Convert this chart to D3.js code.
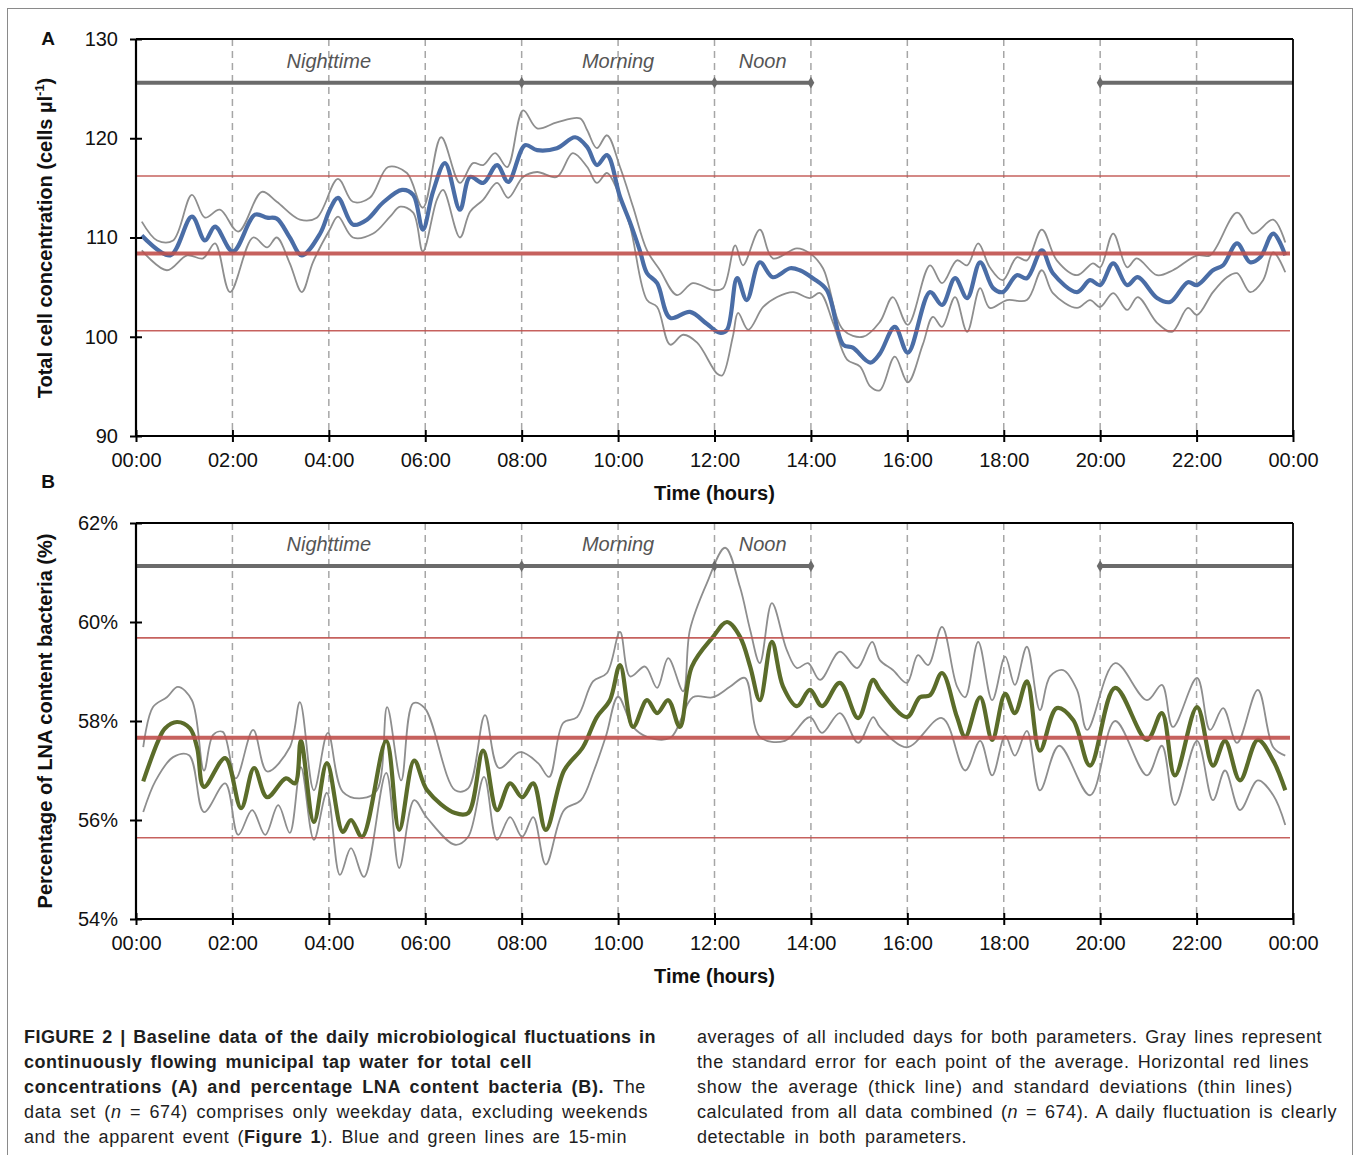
<!DOCTYPE html>
<html><head><meta charset="utf-8">
<script src="https://cdn.jsdelivr.net/npm/d3@7"></script>
<style>body{margin:0;background:#fff}</style>
</head><body>
<svg id="c" width="1354" height="1155" xmlns="http://www.w3.org/2000/svg"></svg>
<script>
// ---------------- DATA ----------------
const hourTicks = [0,2,4,6,8,10,12,14,16,18,20,22,24];
const hourLabels = ["00:00","02:00","04:00","06:00","08:00","10:00","12:00","14:00","16:00","18:00","20:00","22:00","00:00"];
const cellTicks = [90,100,110,120,130];
const lnaTicks = [54,56,58,60,62];

// periods: [start hour, end hour]; label with centre hour
const periodSegments = [[0,14],[20,24]];
const periodMarkers = [8,12,14,20];
const periodLabels = [["Nighttime",4],["Morning",10],["Noon",13]];

// Panel A: total cell concentration (cells/µl), 15-min averages, [hour, value]
const cellMean = [[0.12,110.2],[0.71,108.2],[1.16,112.1],[1.43,109.7],[1.64,111.1],[2.01,108.6],[2.47,112.3],[2.72,112.0],[2.92,111.9],[3.19,110.0],[3.44,108.2],[3.82,110.4],[4.02,112.8],[4.19,114.0],[4.50,111.3],[4.79,111.8],[5.12,113.5],[5.52,114.8],[5.75,114.3],[5.95,110.8],[6.16,114.6],[6.41,117.5],[6.72,112.8],[6.93,116.1],[7.20,115.5],[7.49,117.3],[7.72,115.6],[8.07,119.3],[8.32,118.8],[8.73,119.0],[9.11,120.1],[9.36,119.1],[9.56,117.3],[9.77,118.3],[10.04,114.1],[10.25,111.5],[10.45,108.7],[10.60,106.4],[10.81,105.4],[11.08,101.9],[11.49,102.5],[11.84,101.3],[12.11,100.4],[12.26,100.7],[12.47,105.9],[12.67,103.7],[12.94,107.5],[13.21,106.0],[13.57,106.9],[13.77,106.7],[14.04,105.9],[14.33,104.7],[14.67,99.2],[14.87,98.9],[15.23,97.4],[15.43,98.3],[15.74,101.0],[16.01,98.4],[16.47,104.5],[16.72,103.2],[16.99,105.9],[17.24,103.9],[17.51,107.5],[17.78,104.9],[17.98,104.5],[18.27,106.2],[18.48,105.9],[18.79,108.7],[19.02,106.4],[19.52,104.5],[19.79,105.7],[20.00,105.2],[20.27,107.4],[20.56,105.2],[20.78,106.0],[21.18,103.9],[21.45,103.5],[21.82,105.5],[22.01,105.2],[22.34,106.7],[22.55,107.2],[22.84,109.4],[23.11,107.5],[23.32,108.0],[23.59,110.4],[23.84,108.2]];
const cellUpper = [[0.12,111.6],[0.44,109.7],[0.77,109.7],[1.16,114.3],[1.43,112.0],[1.74,112.8],[2.12,110.6],[2.61,114.6],[2.92,113.6],[3.40,111.8],[3.75,112.0],[4.19,115.9],[4.50,113.6],[4.85,114.0],[5.23,117.1],[5.62,116.5],[5.95,113.0],[6.33,120.1],[6.72,115.5],[6.99,117.5],[7.20,117.3],[7.45,118.5],[7.70,117.1],[8.03,122.8],[8.32,121.0],[8.73,121.6],[9.21,122.0],[9.36,120.8],[9.56,119.0],[9.77,120.3],[10.04,117.1],[10.31,113.1],[10.60,108.7],[10.87,106.7],[11.22,104.2],[11.55,105.4],[11.97,104.7],[12.18,104.9],[12.43,109.2],[12.59,107.2],[12.94,110.8],[13.21,107.9],[13.71,108.9],[13.98,108.4],[14.25,106.9],[14.67,100.7],[15.08,100.0],[15.43,101.5],[15.70,104.0],[16.01,101.2],[16.47,107.2],[16.72,105.4],[17.03,107.7],[17.24,107.2],[17.47,109.4],[17.71,107.0],[17.98,105.7],[18.27,108.0],[18.48,107.7],[18.79,110.8],[19.10,107.7],[19.52,106.2],[19.85,107.4],[20.00,107.0],[20.27,110.4],[20.56,107.0],[20.76,107.9],[21.18,106.2],[21.51,106.7],[22.01,108.2],[22.28,108.2],[22.84,112.5],[23.17,110.4],[23.59,111.8],[23.84,109.5]];
const cellLower = [[0.12,108.7],[0.64,106.7],[1.06,108.2],[1.39,107.9],[1.64,109.4],[1.95,104.5],[2.43,110.0],[2.72,109.0],[2.92,110.0],[3.19,107.4],[3.44,104.5],[3.67,107.5],[4.02,110.8],[4.19,112.1],[4.50,110.0],[4.92,110.4],[5.27,112.1],[5.48,113.1],[5.75,112.5],[5.95,108.6],[6.24,113.8],[6.37,114.8],[6.72,110.0],[6.93,112.6],[7.20,113.8],[7.49,115.5],[7.72,114.0],[8.03,116.1],[8.32,116.6],[8.73,116.1],[9.06,118.5],[9.36,117.1],[9.56,115.5],[9.77,116.5],[9.98,114.8],[10.25,111.1],[10.60,103.7],[10.81,103.0],[11.08,99.2],[11.35,100.2],[11.64,99.4],[12.05,96.3],[12.16,96.1],[12.38,100.0],[12.49,102.4],[12.70,100.7],[13.01,103.0],[13.30,104.0],[13.63,104.5],[13.98,103.9],[14.19,104.4],[14.46,101.4],[14.75,97.7],[15.02,97.0],[15.23,95.0],[15.43,94.6],[15.74,98.0],[16.01,95.4],[16.32,99.2],[16.53,102.0],[16.72,101.0],[16.99,104.0],[17.24,100.5],[17.51,104.9],[17.71,102.9],[18.07,103.7],[18.48,103.7],[18.79,106.7],[19.02,104.4],[19.52,102.9],[19.79,103.7],[20.00,103.0],[20.27,104.4],[20.56,102.7],[20.78,104.0],[21.18,101.4],[21.49,100.5],[21.82,102.9],[22.01,102.2],[22.34,104.5],[22.63,106.0],[22.84,106.4],[23.11,104.5],[23.38,105.7],[23.59,108.5],[23.84,106.5]];
const cellStats = {mean:108.4, sdHigh:116.2, sdLow:100.6};

// Panel B: percentage LNA content bacteria (%)
const lnaMean = [[0.15,56.78],[0.46,57.6],[0.60,57.85],[0.85,57.98],[1.12,57.85],[1.27,57.45],[1.41,56.67],[1.85,57.25],[2.18,56.24],[2.45,57.05],[2.72,56.46],[3.11,56.84],[3.30,56.74],[3.42,57.6],[3.69,55.96],[3.96,57.15],[4.29,55.76],[4.46,56.0],[4.69,55.66],[5.19,57.6],[5.46,55.8],[5.77,57.2],[6.04,56.6],[6.62,56.14],[6.89,56.14],[7.20,57.4],[7.49,56.2],[7.76,56.74],[8.01,56.46],[8.24,56.74],[8.50,55.8],[8.88,57.0],[9.27,57.47],[9.56,58.08],[9.83,58.42],[10.04,59.13],[10.31,57.88],[10.60,58.42],[10.81,58.16],[11.04,58.42],[11.28,57.88],[11.53,59.1],[11.97,59.7],[12.26,60.0],[12.53,59.7],[12.74,59.1],[12.94,58.42],[13.19,59.6],[13.42,58.7],[13.71,58.3],[13.98,58.63],[14.23,58.3],[14.60,58.77],[14.98,58.06],[15.29,58.83],[15.43,58.63],[15.99,58.08],[16.26,58.48],[16.47,58.52],[16.72,58.97],[17.03,58.08],[17.20,57.68],[17.51,58.48],[17.76,57.62],[18.03,58.55],[18.23,58.16],[18.48,58.8],[18.75,57.4],[19.10,58.26],[19.44,58.02],[19.79,57.1],[20.31,58.67],[20.97,57.62],[21.28,58.16],[21.55,56.9],[22.01,58.28],[22.34,57.1],[22.59,57.6],[22.90,56.8],[23.27,57.62],[23.59,57.2],[23.84,56.6]];
const lnaUpper = [[0.15,57.47],[0.35,58.28],[0.64,58.48],[0.87,58.69],[1.16,58.42],[1.41,57.0],[1.60,57.72],[1.80,57.78],[2.07,56.84],[2.43,57.82],[2.72,56.98],[3.19,57.47],[3.40,58.38],[3.69,56.6],[3.98,57.76],[4.29,56.57],[4.69,56.44],[5.00,56.6],[5.21,58.28],[5.50,56.8],[5.75,58.36],[5.99,58.26],[6.62,56.6],[6.89,56.64],[7.24,58.12],[7.53,57.05],[7.97,57.37],[8.34,57.15],[8.57,56.87],[8.86,57.96],[9.15,58.08],[9.48,58.8],[9.77,58.97],[10.04,59.8],[10.25,58.9],[10.56,59.1],[10.81,58.67],[11.04,59.27],[11.35,58.6],[11.49,59.84],[11.84,60.78],[12.22,61.5],[12.53,60.7],[12.74,59.84],[12.94,59.17],[13.19,60.38],[13.50,59.43],[13.71,59.07],[13.94,59.17],[14.19,58.83],[14.60,59.4],[14.96,59.07],[15.27,59.6],[15.43,59.23],[15.70,59.03],[15.99,58.77],[16.22,59.33],[16.43,59.13],[16.72,59.9],[17.03,58.7],[17.20,58.48],[17.47,59.6],[17.76,58.42],[18.03,59.3],[18.23,58.73],[18.48,59.5],[18.75,58.22],[18.96,58.9],[19.23,59.03],[19.52,58.63],[19.73,57.82],[20.31,59.17],[20.97,58.42],[21.28,58.73],[21.51,57.88],[22.01,58.87],[22.28,57.82],[22.55,58.26],[22.84,57.56],[23.27,58.63],[23.59,57.47],[23.84,57.3]];
const lnaLower = [[0.15,56.16],[0.41,56.8],[0.77,57.27],[1.10,57.31],[1.41,56.16],[1.85,56.74],[2.12,55.7],[2.41,56.2],[2.68,55.7],[2.95,56.3],[3.19,55.74],[3.42,57.07],[3.69,55.6],[3.96,56.55],[4.23,54.89],[4.46,55.43],[4.73,54.85],[5.19,56.95],[5.46,55.03],[5.77,56.4],[6.04,56.04],[6.62,55.5],[6.89,55.66],[7.22,56.87],[7.49,55.6],[7.76,56.06],[8.01,55.66],[8.24,56.06],[8.50,55.1],[8.88,56.2],[9.23,56.4],[9.50,57.0],[9.75,57.7],[10.0,58.49],[10.31,57.88],[10.60,57.68],[11.08,57.66],[11.55,58.48],[11.97,58.48],[12.32,58.69],[12.63,58.87],[12.94,57.68],[13.46,57.6],[13.98,58.08],[14.23,57.76],[14.60,58.16],[14.98,57.56],[15.29,58.08],[15.43,57.88],[15.99,57.47],[16.72,58.06],[17.20,57.0],[17.51,57.6],[17.76,56.9],[18.03,57.7],[18.23,57.3],[18.48,57.8],[18.75,56.6],[19.15,57.5],[19.79,56.5],[20.31,58.0],[20.97,56.9],[21.28,57.5],[21.55,56.3],[22.01,57.6],[22.34,56.4],[22.59,57.0],[22.90,56.2],[23.27,56.8],[23.59,56.5],[23.84,55.9]];
const lnaStats = {mean:57.66, sdHigh:59.68, sdLow:55.64};

// ---------------- DRAW ----------------
const svg = d3.select("#c");
const FONT = "'Liberation Sans', Arial, Helvetica, sans-serif";
const RED = "#c0504d";

svg.append("rect").attr("x",7.5).attr("y",8.5).attr("width",1345).attr("height",1170)
  .attr("fill","none").attr("stroke","#8a8a8a").attr("stroke-width",1);

const x = d3.scaleLinear().domain([0,24]).range([136,1293]);

function panel(cfg){
  const y = d3.scaleLinear().domain(cfg.domain).range([cfg.bottom, cfg.top]);
  const g = svg.append("g");
  g.selectAll(".grid").data(hourTicks.slice(1,-1)).join("line")
    .attr("x1",d=>x(d)).attr("x2",d=>x(d)).attr("y1",cfg.top).attr("y2",cfg.bottom)
    .attr("stroke","#a6a6a6").attr("stroke-width",1.5).attr("stroke-dasharray","7,5");
  const line = d3.line().x(d=>x(d[0])).y(d=>y(d[1])).curve(d3.curveCatmullRom.alpha(0.5));
  [cfg.upper,cfg.lower].forEach(s=>{
    g.append("path").attr("d",line(s)).attr("fill","none").attr("stroke","#8e8e8e").attr("stroke-width",1.8);
  });
  g.append("path").attr("d",line(cfg.mean)).attr("fill","none").attr("stroke",cfg.color).attr("stroke-width",4.2)
    .attr("stroke-linejoin","round");
  [[cfg.stats.sdHigh,1.6],[cfg.stats.sdLow,1.6],[cfg.stats.mean,4]].forEach(([v,w])=>{
    g.append("line").attr("x1",x(0)).attr("x2",x(24)-3).attr("y1",y(v)).attr("y2",y(v))
      .attr("stroke",RED).attr("stroke-width",w).attr("stroke-opacity",0.9);
  });
  periodSegments.forEach(([a,b])=>{
    g.append("line").attr("x1",x(a)).attr("x2",x(b)).attr("y1",y(cfg.barLevel)).attr("y2",y(cfg.barLevel))
      .attr("stroke","#6b6b6b").attr("stroke-width",4);
  });
  g.selectAll(".mk").data(periodMarkers).join("path")
    .attr("transform",d=>`translate(${x(d)},${y(cfg.barLevel)})`)
    .attr("d",d3.symbol(d3.symbolDiamond, 40)).attr("fill","#6b6b6b");
  g.selectAll(".pl").data(periodLabels).join("text")
    .attr("x",d=>x(d[1])).attr("y",y(cfg.labelLevel)).attr("text-anchor","middle")
    .attr("font-family",FONT).attr("font-style","italic").attr("font-size",20).attr("fill","#555")
    .text(d=>d[0]);
  g.append("line").attr("x1",x(0)).attr("x2",x(24)).attr("y1",cfg.top).attr("y2",cfg.top).attr("stroke","#000").attr("stroke-width",1.8);
  g.append("line").attr("x1",x(24)).attr("x2",x(24)).attr("y1",cfg.top).attr("y2",cfg.bottom).attr("stroke","#000").attr("stroke-width",1.8);
  const ax = g.append("g").attr("transform",`translate(0,${cfg.bottom})`)
    .call(d3.axisBottom(x).tickValues(hourTicks).tickSize(6).tickPadding(12).tickFormat((d,i)=>hourLabels[i]));
  const ay = g.append("g").attr("transform",`translate(${x(0)},0)`)
    .call(d3.axisLeft(y).tickValues(cfg.ticks).tickSize(6).tickPadding(12).tickFormat(cfg.fmt));
  [ax,ay].forEach(a=>{
    a.select(".domain").attr("stroke","#000").attr("stroke-width",2.2);
    a.selectAll(".tick text").attr("font-family",FONT).attr("font-size",20).attr("fill","#111");
    a.selectAll(".tick line").attr("stroke","#000").attr("stroke-width",2);
  });
  ax.select(".domain").attr("d",`M${x(0)},0H${x(24)}`);
  ay.select(".domain").attr("d",`M0,${cfg.top}V${cfg.bottom}`);
  ax.selectAll(".tick line").attr("y1",-6).attr("y2",6);
  ay.selectAll(".tick line").attr("x1",6).attr("x2",-6);
  ax.selectAll(".tick text").attr("dy","0.71em").attr("y",17);
  g.append("text").attr("x",x(12)).attr("y",cfg.bottom+64).attr("text-anchor","middle")
    .attr("font-family",FONT).attr("font-weight","bold").attr("font-size",20).attr("fill","#111").text("Time (hours)");
  const yt = g.append("text").attr("transform",`translate(${cfg.ytX},${cfg.ytY}) rotate(-90)`).attr("text-anchor","middle")
    .attr("font-family",FONT).attr("font-weight","bold").attr("font-size",20).attr("fill","#111");
  cfg.ytitle(yt);
  g.append("text").attr("x",48).attr("y",cfg.letterY).attr("text-anchor","middle")
    .attr("font-family",FONT).attr("font-weight","bold").attr("font-size",19).attr("fill","#111").text(cfg.letter);
}

panel({domain:[90,130], top:39, bottom:436, ticks:cellTicks, fmt:d=>d,
  mean:cellMean, upper:cellUpper, lower:cellLower, stats:cellStats, color:"#4a6da6",
  barLevel:125.6, labelLevel:127.1, letter:"A", letterY:45, ytX:52, ytY:238,
  ytitle:t=>{t.append("tspan").text("Total cell concentration (cells µl");
    t.append("tspan").attr("dy",-8).attr("font-size",13).text("-1");
    t.append("tspan").attr("dy",8).text(")");}});
panel({domain:[54,62], top:523, bottom:919, ticks:lnaTicks, fmt:d=>d+"%",
  mean:lnaMean, upper:lnaUpper, lower:lnaLower, stats:lnaStats, color:"#5b6c2a",
  barLevel:61.13, labelLevel:61.43, letter:"B", letterY:488, ytX:52, ytY:721,
  ytitle:t=>t.text("Percentage of LNA content bacteria (%)")});

// ---------------- CAPTION ----------------
const captionLines = [
  {x:24, y:1043, end:656, segs:[["FIGURE 2 | Baseline data of the daily microbiological fluctuations in","b"]]},
  {x:24, y:1068, end:532, segs:[["continuously flowing municipal tap water for total cell","b"]]},
  {x:24, y:1093, end:646, segs:[["concentrations (A) and percentage LNA content bacteria (B).","b"],[" The",""]]},
  {x:24, y:1118, end:648, segs:[["data set (",""],["n","i"],[" = 674) comprises only weekday data, excluding weekends",""]]},
  {x:24, y:1143, end:627, segs:[["and the apparent event (",""],["Figure 1","b"],["). Blue and green lines are 15-min",""]]},
  {x:697, y:1043, end:1322, segs:[["averages of all included days for both parameters. Gray lines represent",""]]},
  {x:697, y:1068, end:1309, segs:[["the standard error for each point of the average. Horizontal red lines",""]]},
  {x:697, y:1093, end:1293, segs:[["show the average (thick line) and standard deviations (thin lines)",""]]},
  {x:697, y:1118, end:1337, segs:[["calculated from all data combined (",""],["n","i"],[" = 674). A daily fluctuation is clearly",""]]},
  {x:697, y:1143, end:967, segs:[["detectable in both parameters.",""]]}
];
captionLines.forEach(L=>{
  const t = svg.append("text").attr("x",L.x).attr("y",L.y).attr("font-family",FONT)
    .attr("font-size",18).attr("fill","#1e1e1e").style("white-space","pre");
  L.segs.forEach(([s,st])=>{
    const ts = t.append("tspan").text(s);
    if(st==="b") ts.attr("font-weight","bold");
    if(st==="i") ts.attr("font-style","italic");
  });
  const w = t.node().getComputedTextLength();
  const full = L.segs.map(d=>d[0]).join("");
  const gaps = (full.match(/ /g)||[]).length;
  const n = full.length;
  const extra = (L.end - L.x) - w;
  const ls = Math.max(-0.6, Math.min(0.9, 0.6*extra/n));
  const rest = extra - ls*n;
  t.attr("letter-spacing", ls.toFixed(3));
  if(gaps>0) t.attr("word-spacing", (rest/gaps).toFixed(3));
});
</script>
</body></html>
